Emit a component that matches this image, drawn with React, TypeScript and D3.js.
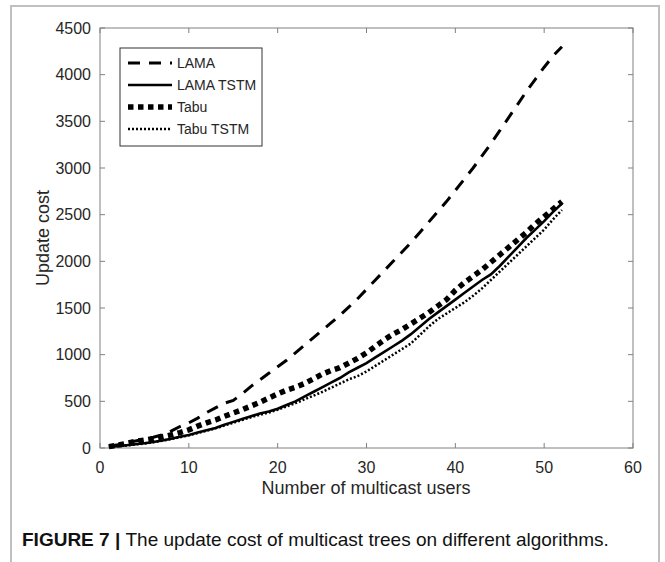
import React from "react";
import * as d3 from "d3";

const xUsers = [1,2,3,4,5,6,7,8,9,10,11,12,13,14,15,16,17,18,19,20,21,22,23,24,25,26,27,28,29,30,31,32,33,34,35,36,37,38,39,40,41,42,43,44,45,46,47,48,49,50,51,52];
const lama = [20,35,55,75,95,115,140,180,230,270,320,380,430,480,510,580,660,730,800,870,940,1020,1100,1180,1260,1340,1420,1510,1600,1700,1800,1900,2000,2100,2200,2310,2420,2530,2640,2760,2880,3000,3130,3260,3400,3540,3680,3820,3950,4080,4200,4300];
const lamaTstm = [15,20,30,40,50,65,80,100,120,140,165,190,215,250,280,310,340,370,390,420,460,500,550,600,650,700,750,810,860,910,970,1030,1090,1150,1220,1300,1380,1450,1520,1590,1660,1730,1800,1860,1950,2050,2150,2250,2340,2430,2530,2620];
const tabu = [15,30,50,70,85,100,120,140,165,195,235,270,300,340,375,410,450,490,535,580,620,650,690,740,790,830,860,910,960,1020,1090,1160,1220,1270,1330,1390,1450,1520,1590,1690,1770,1840,1910,1990,2070,2150,2230,2310,2400,2480,2560,2640];
const tabuTstm = [12,18,28,38,48,62,78,95,115,135,160,185,210,240,270,300,330,355,380,410,445,480,520,560,600,645,690,735,770,820,880,940,1000,1060,1120,1210,1300,1380,1440,1500,1560,1630,1710,1800,1890,1980,2070,2160,2250,2340,2450,2550];

const xTicks = [0,10,20,30,40,50,60];
const yTicks = [0,500,1000,1500,2000,2500,3000,3500,4000,4500];
const seriesNames = ["LAMA","LAMA TSTM","Tabu","Tabu TSTM"];

const W = 665, H = 562;
const left = 100, right = 633, top = 28, bottom = 448;
const FONT = "'Liberation Sans', Arial, Helvetica, sans-serif";

const styles = [
  { width: 3, dash: "12,9" },
  { width: 2.6, dash: "" },
  { width: 5.5, dash: "5.5,4.5" },
  { width: 2.5, dash: "2,2" },
];

export default function App() {
  const x = d3.scaleLinear().domain([0, 60]).range([left, right]);
  const y = d3.scaleLinear().domain([0, 4500]).range([bottom, top]);
  const series = [lama, lamaTstm, tabu, tabuTstm];
  const line = (vals: number[]) =>
    d3.line<number>().x((_, i) => x(xUsers[i])).y((v) => y(v))(vals) || "";
  const axisColor = "#808080";
  const textColor = "#262626";
  const tickLen = 5;
  const legX = 120, legY = 48, legW = 142, legH = 98;
  const rowY = [63, 85, 107, 129];

  return (
    <svg width={W} height={H} style={{ position: "absolute", left: 0, top: 0, background: "#fff" }}>
      <rect x={11} y={6} width={648} height={H + 10} fill="#fff" stroke="#c0c0c0" strokeWidth={2} />
      <rect x={left} y={top} width={right - left} height={bottom - top} fill="none" stroke={axisColor} strokeWidth={1} />
      {xTicks.map((t) => (
        <g key={"xt" + t}>
          <line x1={x(t)} x2={x(t)} y1={bottom} y2={bottom - tickLen} stroke={axisColor} />
          <line x1={x(t)} x2={x(t)} y1={top} y2={top + tickLen} stroke={axisColor} />
          <text x={x(t)} y={467} textAnchor="middle" dominantBaseline="central" fontFamily={FONT} fontSize={16} fill={textColor}>{t}</text>
        </g>
      ))}
      {yTicks.map((t) => (
        <g key={"yt" + t}>
          <line x1={left} x2={left + tickLen} y1={y(t)} y2={y(t)} stroke={axisColor} />
          <line x1={right} x2={right - tickLen} y1={y(t)} y2={y(t)} stroke={axisColor} />
          <text x={91} y={y(t)} textAnchor="end" dominantBaseline="central" fontFamily={FONT} fontSize={16} fill={textColor}>{t}</text>
        </g>
      ))}
      <text x={366} y={488} textAnchor="middle" dominantBaseline="central" fontFamily={FONT} fontSize={18} fill={textColor}>Number of multicast users</text>
      <text transform={`translate(43,${(top + bottom) / 2}) rotate(-90)`} textAnchor="middle" dominantBaseline="central" fontFamily={FONT} fontSize={18} fill={textColor}>Update cost</text>
      {series.map((s, i) => (
        <path key={"s" + i} d={line(s)} fill="none" stroke="#000" strokeWidth={styles[i].width} strokeDasharray={styles[i].dash} />
      ))}
      <rect x={legX} y={legY} width={legW} height={legH} fill="#fff" stroke="#333" strokeWidth={1} />
      {seriesNames.map((n, i) => (
        <g key={"lg" + i}>
          <line x1={128} x2={172} y1={rowY[i]} y2={rowY[i]} stroke="#000" strokeWidth={styles[i].width} strokeDasharray={styles[i].dash} />
          <text x={177} y={rowY[i]} dominantBaseline="central" fontFamily={FONT} fontSize={14} fill={textColor}>{n}</text>
        </g>
      ))}
      <text x={22} y={539} dominantBaseline="central" fontFamily={FONT} fontSize={19} fill="#111">
        <tspan fontWeight="bold">FIGURE 7 | </tspan>
        <tspan>The update cost of multicast trees on different algorithms.</tspan>
      </text>
    </svg>
  );
}
